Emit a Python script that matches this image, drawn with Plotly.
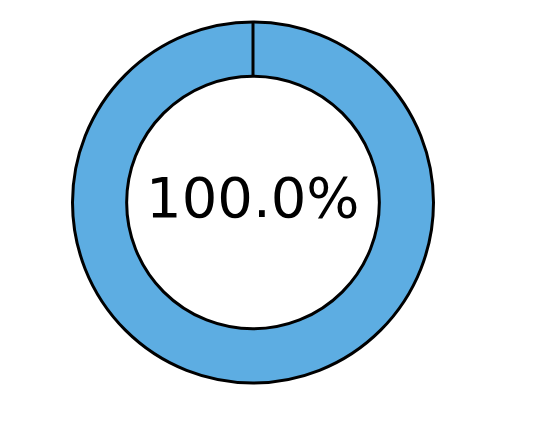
import plotly.graph_objects as go

labels = ["Completed"]
values = [100.0]
center_text = "100.0%"

W, H = 542, 424
ml, mr, mt, mb = 64, 116, 14, 49

fig = go.Figure(go.Pie(
    labels=labels,
    values=values,
    hole=0.70,
    sort=False,
    direction="clockwise",
    rotation=0,
    marker=dict(colors=["#5DADE2"], line=dict(color="black", width=3)),
    textinfo="none",
    hoverinfo="label+percent",
    showlegend=False,
))

# radial seam line at top (start of the slice)
hole = 0.70
fig.add_shape(type="line", xref="paper", yref="paper",
              x0=0.5, x1=0.5, y0=0.5 + hole / 2, y1=1.0,
              line=dict(color="black", width=3))

fig.add_annotation(text=center_text, x=0.5, y=0.5, xref="paper", yref="paper",
                   yshift=5, showarrow=False,
                   font=dict(family="DejaVu Sans", size=56, color="black"))

fig.update_layout(width=W, height=H, margin=dict(l=ml, r=mr, t=mt, b=mb),
                  paper_bgcolor="white", plot_bgcolor="white")
fig.write_html("out.html")
